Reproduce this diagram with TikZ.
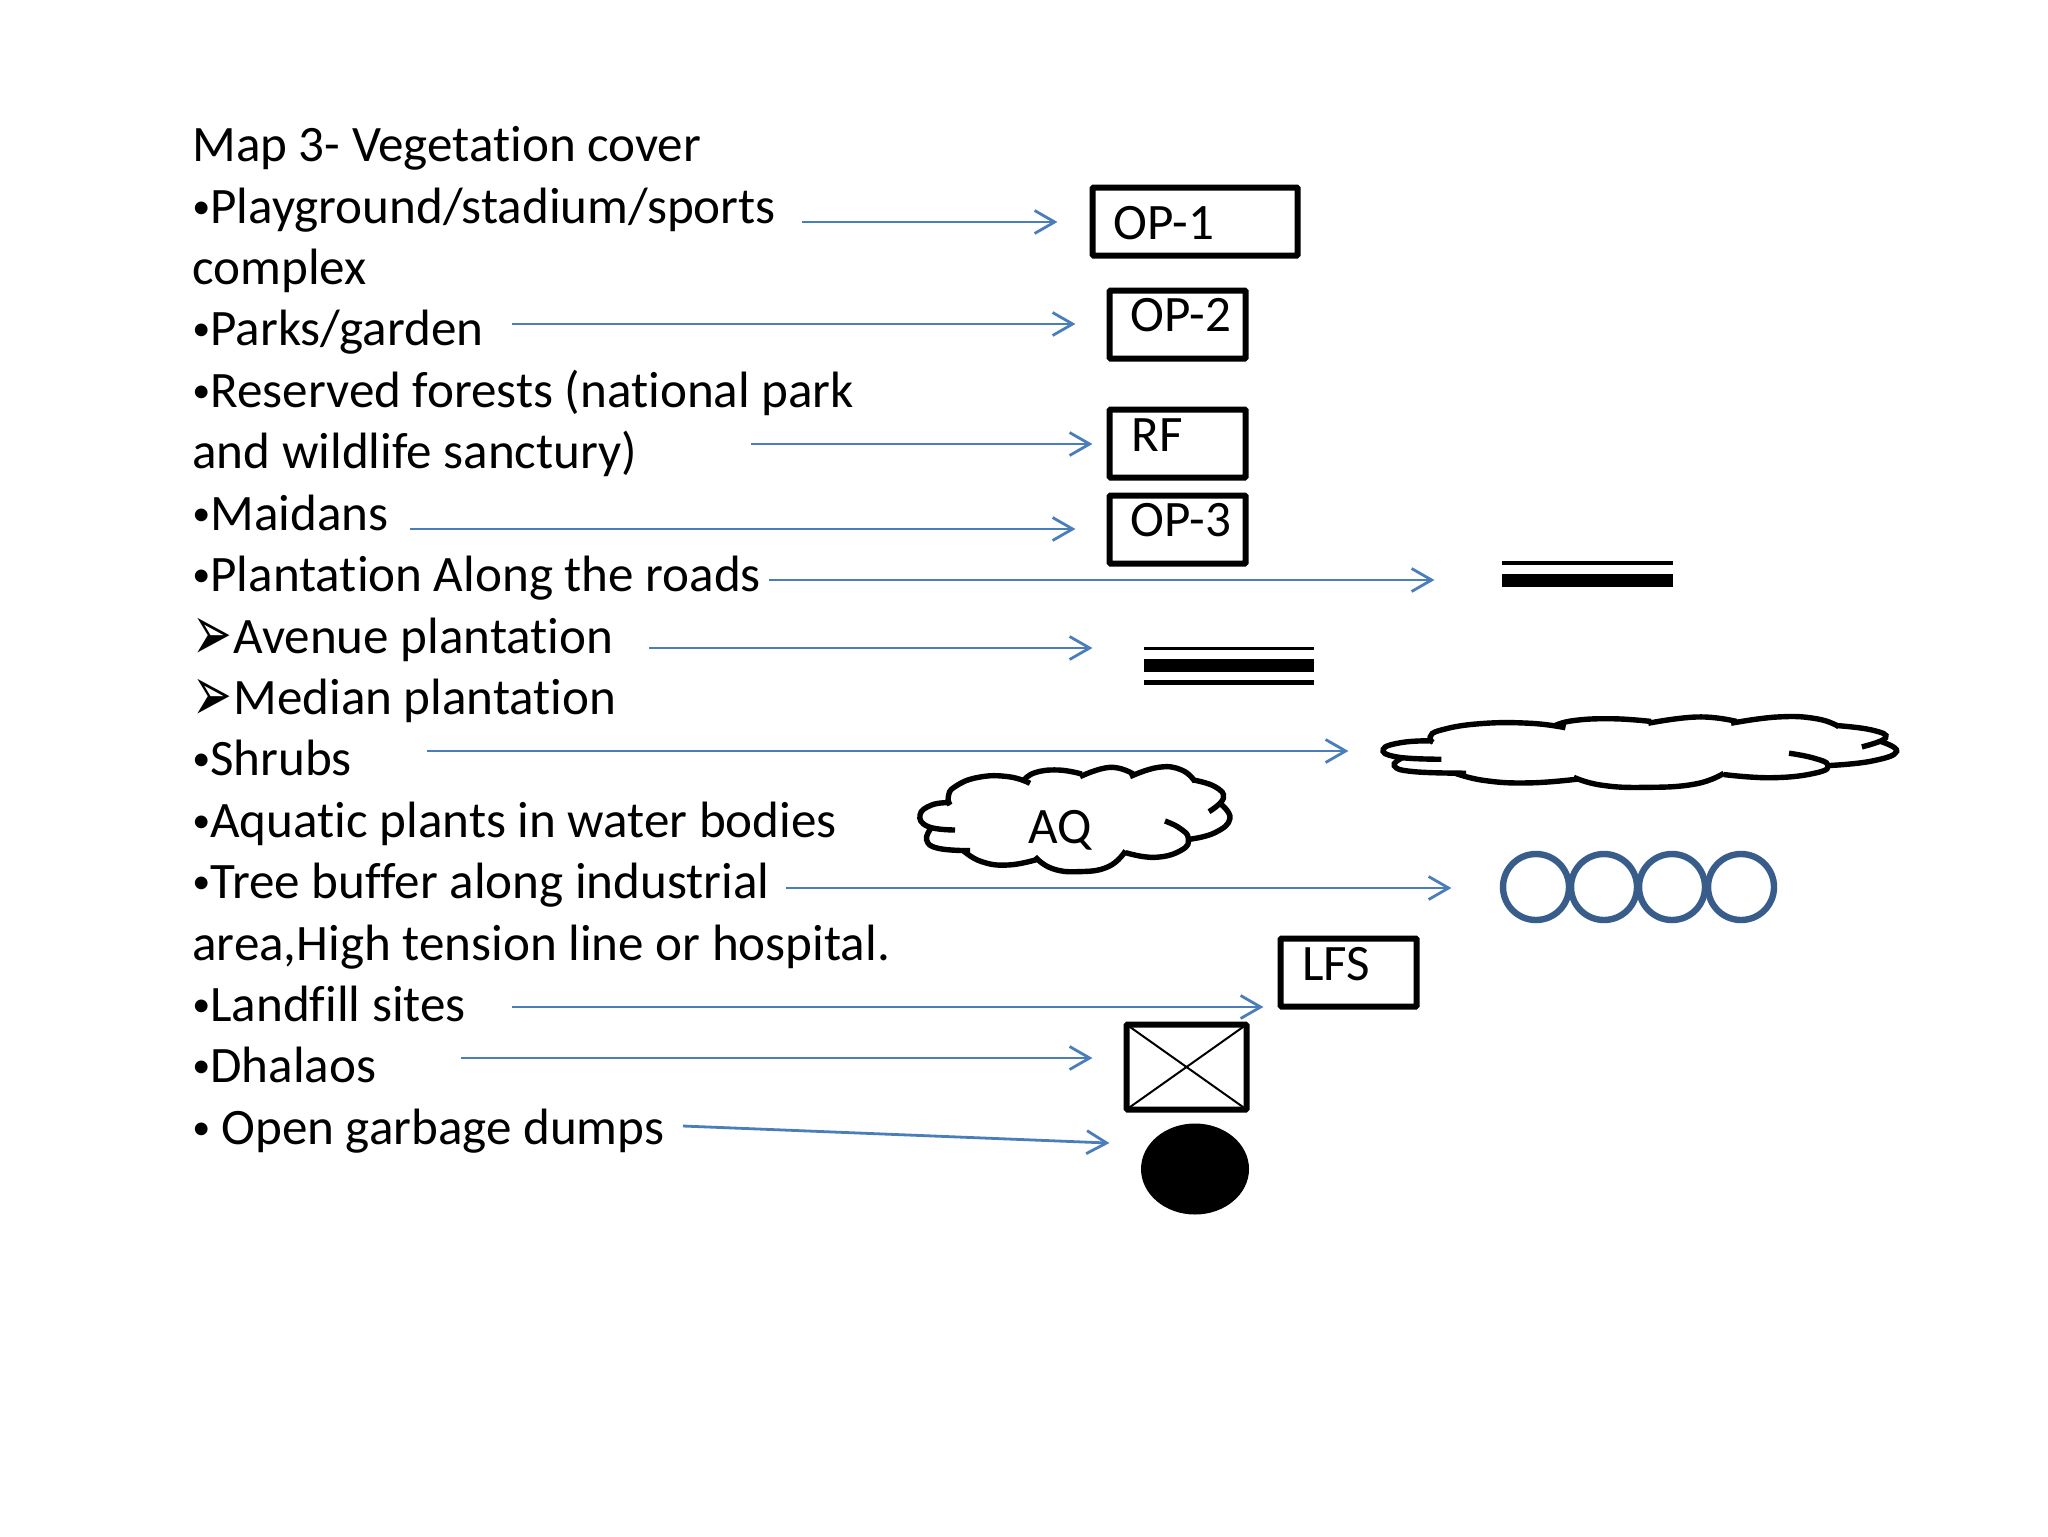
\documentclass[tikz,border=0pt]{standalone}
\usepackage{fontspec}
\usepackage{graphicx}
\setmainfont[Ligatures=NoCommon]{Carlito}
\newfontfamily\symfont{DejaVu Sans}
\usetikzlibrary{arrows.meta,shapes.geometric}
\definecolor{arrowblue}{HTML}{4A7EBB}
\definecolor{ringblue}{HTML}{385D8A}
\newcommand{\bul}{\makebox[9pt][l]{\raisebox{2.5pt}{\fontsize{18}{18}\selectfont •}}}
\newcommand{\arr}{\makebox[20.5pt][l]{\smash{\raisebox{-3.5pt}{\scalebox{1.08}[1.8]{\symfont\fontsize{22}{22}\selectfont ➢}}}}}
\newcommand{\cloudshape}[1]{%
\draw[#1] plot[smooth,tension=0.8] coordinates {(105,128) (50,135) (15,165) (40,200) (120,210)};
\draw[#1] plot[smooth,tension=0.8] coordinates {(48,205) (35,240) (70,265) (165,272)};
\draw[#1] plot[smooth,tension=0.8] coordinates {(145,272) (200,305) (280,315) (368,298)};
\draw[#1] plot[smooth,tension=0.8] coordinates {(360,290) (410,325) (490,335) (580,320) (632,272)};
\draw[#1] plot[smooth,tension=0.8] coordinates {(632,278) (720,292) (800,270) (820,235) (795,205) (750,183)};
\draw[#1] plot[smooth,tension=0.8] coordinates {(822,238) (900,218) (945,175) (915,130)};
\draw[#1] plot[smooth,tension=0.8] coordinates {(882,155) (925,115) (900,80) (835,60)};
\draw[#1] plot[smooth,tension=0.8] coordinates {(840,65) (800,30) (730,22) (645,50)};
\draw[#1] plot[smooth,tension=0.8] coordinates {(655,42) (585,22) (495,50)};
\draw[#1] plot[smooth,tension=0.8] coordinates {(500,42) (430,30) (360,38) (325,62)};
\draw[#1] plot[smooth,tension=0.8] coordinates {(345,70) (280,50) (190,52) (120,80) (100,110) (105,135)};
}
\tikzset{
  x=0.5pt,y=-0.5pt,
  txt/.style={anchor=base west,inner sep=0pt,font=\fontsize{25.55}{25.55}\selectfont},
  boxed/.style={draw=black,line width=3pt,rounded corners=0.5pt,anchor=north west,inner sep=0pt,outer sep=0pt,minimum width=68pt,minimum height=34pt},
  link/.style={draw=arrowblue,line width=1.4pt,shorten >=-0.7pt,-{Straight Barb[length=10pt,width=11.5pt,line width=1.4pt]}},
  ring/.style={draw=ringblue,line width=3.2pt,circle,minimum size=33pt,inner sep=0pt,outer sep=0pt},
  cloudline/.style={draw=black,line width=2.7pt},
}
\begin{document}
\begin{tikzpicture}
\useasboundingbox[fill=white] (0,0) rectangle (2048,1536);
% text
\node[txt] (t0) at (192,161.5) {Map 3- Vegetation cover};
\node[txt] (t1) at (192,223) {\bul Playground/stadium/sports};
\node[txt] (t2) at (192,284) {complex};
\node[txt] (t3) at (192,345.5) {\bul Parks/garden};
\node[txt] (t4) at (192,407) {\bul Reserved forests (national park};
\node[txt] (t5) at (192,468.5) {and wildlife sanctury)};
\node[txt] (t6) at (192,530) {\bul Maidans};
\node[txt] (t7) at (192,591.5) {\bul Plantation Along the roads};
\node[txt] (t8) at (192,653) {\arr Avenue plantation};
\node[txt] (t9) at (192,714.5) {\arr Median plantation};
\node[txt] (t10) at (192,775.5) {\bul Shrubs};
\node[txt] (t11) at (192,837.5) {\bul Aquatic plants in water bodies};
\node[txt] (t12) at (192,898.5) {\bul Tree buffer along industrial};
\node[txt] (t13) at (192,960.5) {area,High tension line or hospital.};
\node[txt] (t14) at (192,1021.5) {\bul Landfill sites};
\node[txt] (t15) at (192,1082.5) {\bul Dhalaos};
\node[txt] (t16) at (192,1144) {\bul\hspace{5.5pt}Open garbage dumps};
% boxes
\node[boxed,minimum width=102.5pt] (op1) at (1092.5,187.5) {};
\node[boxed] (op2) at (1109.5,290.5) {};
\node[boxed] (rf) at (1109.5,409.5) {};
\node[boxed] (op3) at (1109.5,495.5) {};
\node[boxed,minimum width=68pt] (lfs) at (1280.5,938.5) {};
\node[boxed,minimum width=60pt,minimum height=42.5pt] (dh) at (1126.5,1024.5) {};
\draw[line width=1pt] (dh.north west) -- (dh.south east);
\draw[line width=1pt] (dh.north east) -- (dh.south west);
\node[txt] (lop1) at (1113.5,239) {OP-1};
\node[txt] (lop2) at (1130.5,331) {OP-2};
\node[txt] (lrf) at (1131.5,451) {RF};
\node[txt] (lop3) at (1130.5,536) {OP-3};
\node[txt] (llfs) at (1302,980) {LFS};
\node[txt] (laq) at (1028,843) {AQ};
% ellipse
\node[fill=black,ellipse,minimum width=54pt,minimum height=45.5pt,inner sep=0pt] (dump) at (1195,1169) {};
% roads
\fill (1502,561) rectangle (1673,565);
\fill (1502,574) rectangle (1673,587);
\fill (1144,647) rectangle (1314,650);
\fill (1144,659) rectangle (1314,672);
\fill (1144,680) rectangle (1314,685);
% rings
\node[ring] (r1) at (1536,887) {};
\node[ring] (r2) at (1604,887) {};
\node[ring] (r3) at (1672,887) {};
\node[ring] (r4) at (1741,887) {};
% clouds
\begin{scope}[shift={(915,760)},xscale=0.3333,yscale=0.3333]
\cloudshape{cloudline}
\end{scope}
\begin{scope}[shift={(1375,712)},xscale=0.552,yscale=0.225]
\cloudshape{cloudline}
\end{scope}
% connectors
\coordinate (a1s) at (802,222); \coordinate (a1e) at (1056,222);
\coordinate (a2s) at (512,324); \coordinate (a2e) at (1074,324);
\coordinate (a3s) at (751,444); \coordinate (a3e) at (1091,444);
\coordinate (a4s) at (410,529); \coordinate (a4e) at (1074,529);
\coordinate (a5s) at (769,580); \coordinate (a5e) at (1433,580);
\coordinate (a6s) at (649,648); \coordinate (a6e) at (1091,648);
\coordinate (a7s) at (427,751); \coordinate (a7e) at (1347,751);
\coordinate (a8s) at (786,888); \coordinate (a8e) at (1450,888);
\coordinate (a9s) at (512,1007); \coordinate (a9e) at (1262,1007);
\coordinate (a10s) at (461,1058); \coordinate (a10e) at (1091,1058);
\coordinate (a11s) at (683,1126); \coordinate (a11e) at (1108,1143);
\foreach \i in {1,...,11} {\draw[link] (a\i s) -- (a\i e);}
\end{tikzpicture}
\end{document}
